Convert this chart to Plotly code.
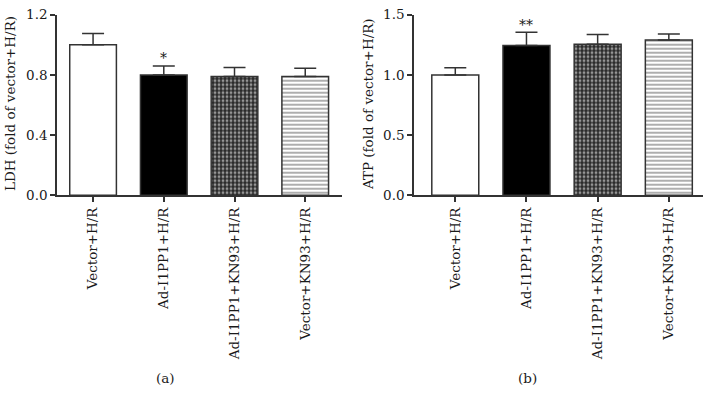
import plotly.graph_objects as go

categories = ["Vector+H/R", "Ad-I1PP1+H/R", "Ad-I1PP1+KN93+H/R", "Vector+KN93+H/R"]
ldh_mean = [1.00, 0.80, 0.79, 0.79]
ldh_err = [0.075, 0.06, 0.06, 0.055]
atp_mean = [1.00, 1.245, 1.255, 1.29]
atp_err = [0.06, 0.11, 0.08, 0.05]
ldh_ticks = [0.0, 0.4, 0.8, 1.2]
atp_ticks = [0.0, 0.5, 1.0, 1.5]
ldh_sig = ["", "*", "", ""]
atp_sig = ["", "**", "", ""]

W, H = 703, 406
FONT = "DejaVu Serif"
EDGE = "#333333"
TXT = "#1a1a1a"

fig = go.Figure()

def add_bars(means, errs, xa, ya):
    for i, (c, m, e) in enumerate(zip(categories, means, errs)):
        if i == 0:
            marker = dict(color="white")
        elif i == 1:
            marker = dict(color="black")
        elif i == 2:
            marker = dict(color="#2a2a2a",
                          pattern=dict(shape=".", fgcolor="white", bgcolor="#2a2a2a",
                                       size=4, solidity=0.4, fillmode="overlay"))
        else:
            marker = dict(color="white",
                          pattern=dict(shape="-", fgcolor="#333333", bgcolor="white",
                                       size=4, solidity=0.4, fillmode="overlay"))
        marker["line"] = dict(color=EDGE, width=1.5)
        fig.add_trace(go.Bar(
            x=[c], y=[m], xaxis=xa, yaxis=ya, width=0.66, marker=marker,
            error_y=dict(type="data", array=[e], arrayminus=[0], symmetric=False,
                         color=EDGE, thickness=1.5, width=11),
            showlegend=False, hoverinfo="skip"))

add_bars(ldh_mean, ldh_err, "x", "y")
add_bars(atp_mean, atp_err, "x2", "y2")

ydom = [1 - 195 / H, 1 - 7 / H]
axis_common = dict(showline=True, linecolor=EDGE, linewidth=1.5, ticks="outside",
                   ticklen=5, tickwidth=1.5, tickcolor=EDGE, showgrid=False,
                   zeroline=False, ticklabeloverflow="allow",
                   tickfont=dict(family=FONT, size=13.5, color=TXT))

fig.update_layout(
    width=W, height=H, margin=dict(l=0, r=0, t=0, b=0),
    paper_bgcolor="white", plot_bgcolor="white", bargap=0.34,
    font=dict(family=FONT, size=13.5, color=TXT),
    xaxis=dict(domain=[57 / W, 342 / W], range=[-0.51, 3.52], anchor="y",
               type="category", tickangle=-90, **axis_common),
    yaxis=dict(domain=ydom, range=[0, 1.2], anchor="x", tickvals=ldh_ticks,
               ticktext=[f"{v:.1f}" for v in ldh_ticks], **axis_common),
    xaxis2=dict(domain=[414 / W, 1.0], range=[-0.58, 3.48], anchor="y2",
                type="category", tickangle=-90, **axis_common),
    yaxis2=dict(domain=ydom, range=[0, 1.5], anchor="x2", tickvals=atp_ticks,
                ticktext=[f"{v:.1f}" for v in atp_ticks], **axis_common),
)

for i, c in enumerate(categories):
    if ldh_sig[i]:
        fig.add_annotation(x=c, y=ldh_mean[i] + ldh_err[i], xref="x", yref="y",
                           text=ldh_sig[i], showarrow=False, xanchor="center",
                           yanchor="bottom", yshift=-2,
                           font=dict(family=FONT, size=14, color=TXT))
    if atp_sig[i]:
        fig.add_annotation(x=c, y=atp_mean[i] + atp_err[i], xref="x2", yref="y2",
                           text=atp_sig[i], showarrow=False, xanchor="center",
                           yanchor="bottom", yshift=-3,
                           font=dict(family=FONT, size=14, color=TXT))

fig.add_annotation(x=10 / W, y=1 - 100 / H, xref="paper", yref="paper",
                   text="LDH (fold of vector+H/R)", textangle=-90, showarrow=False,
                   xanchor="center", yanchor="middle",
                   font=dict(family=FONT, size=13.5, color=TXT))
fig.add_annotation(x=368 / W, y=1 - 100 / H, xref="paper", yref="paper",
                   text="ATP (fold of vector+H/R)", textangle=-90, showarrow=False,
                   xanchor="center", yanchor="middle",
                   font=dict(family=FONT, size=13.5, color=TXT))
fig.add_annotation(x=165 / W, y=1 - 385 / H, xref="paper", yref="paper",
                   text="(a)", showarrow=False, xanchor="center", yanchor="middle",
                   font=dict(family=FONT, size=13.5, color=TXT))
fig.add_annotation(x=527 / W, y=1 - 385 / H, xref="paper", yref="paper",
                   text="(b)", showarrow=False, xanchor="center", yanchor="middle",
                   font=dict(family=FONT, size=13.5, color=TXT))

fig.write_html("out.html", config={"displayModeBar": False},
               post_script="document.body.style.margin='0px';")
